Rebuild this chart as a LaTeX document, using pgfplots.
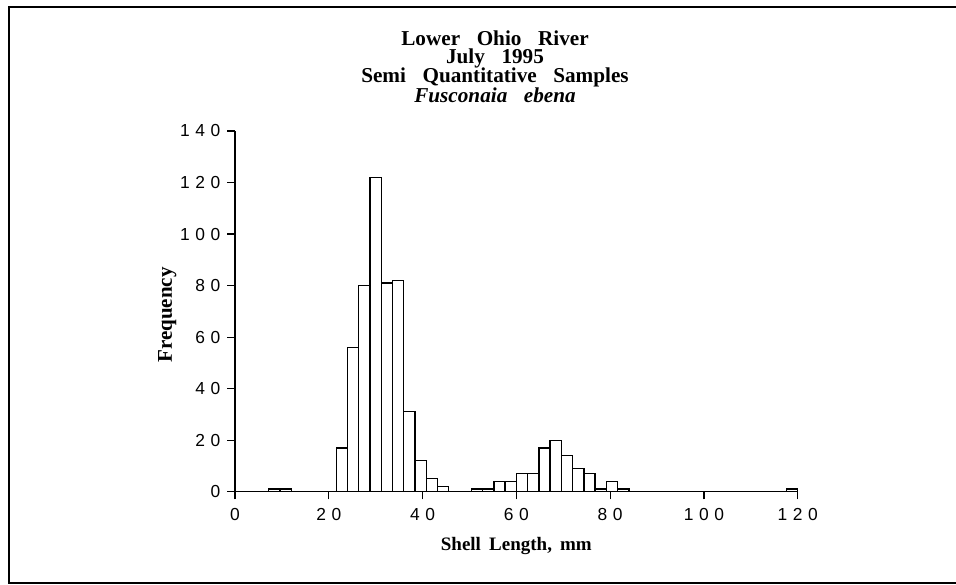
\documentclass[border=0pt]{standalone}
\usepackage{fontspec}
\setmainfont{Liberation Serif}
\newfontfamily\tickfont[LetterSpace=32]{Liberation Sans}
\usepackage{pgfplots}
\pgfplotsset{compat=1.18}
\begin{document}
\begin{tikzpicture}
\useasboundingbox (0,0) rectangle (478pt,292pt);
\draw[line width=1pt] (4.5pt,0.5pt) rectangle (490pt,288.5pt);
\begin{axis}[
  at={(117.5pt,46.15pt)}, anchor=south west,
  scale only axis, width=281.35pt, height=180.35pt,
  xmin=0, xmax=120, ymin=0, ymax=140,
  axis lines*=left,
  axis line style={line width=0.6pt, black},
  xtick={0,20,...,120}, ytick={0,20,...,140},
  tick align=outside, major tick length=3.8pt,
  tick style={line width=0.6pt, black},
  tick label style={font=\tickfont\fontsize{8.7}{10}\selectfont},
  xticklabel style={yshift=-1pt},
  /pgf/number format/assume math mode=true,
  xlabel={\bfseries\fontsize{9.5}{11}\selectfont Shell\hspace{0.43em}Length,\hspace{0.43em}mm},
  xlabel style={at={(axis description cs:0.5,-0.1636)}, anchor=base},
  ylabel={\bfseries\fontsize{10.5}{12}\selectfont Frequency},
  ylabel style={at={(axis description cs:-0.112,0.49)}, anchor=base, rotate=0},
  clip=false,
]
\addplot[ybar interval, fill=white, draw=black, line width=0.65pt] coordinates {
(0,0) (2.4,0) (4.8,0) (7.2,1) (9.6,1) (12,0) (14.4,0) (16.8,0) (19.2,0)
(21.6,17) (24,56) (26.4,80) (28.8,122) (31.2,81) (33.6,82) (36,31) (38.4,12)
(40.8,5) (43.2,2) (45.6,0) (48,0) (50.4,1) (52.8,1) (55.2,4) (57.6,4)
(60,7) (62.4,7) (64.8,17) (67.2,20) (69.6,14) (72,9) (74.4,7) (76.8,1)
(79.2,4) (81.6,1) (84,0) (86.4,0) (88.8,0) (91.2,0) (93.6,0) (96,0)
(98.4,0) (100.8,0) (103.2,0) (105.6,0) (108,0) (110.4,0) (112.8,0)
(115.2,0) (117.6,1) (120,0)
};
\end{axis}
\begin{scope}[every node/.style={inner sep=0pt, anchor=base}, font=\bfseries\fontsize{10.6}{12}\selectfont]
\node[text depth=0pt] at (247.5pt,269.1pt) {Lower\hspace{0.78em}Ohio\hspace{0.78em}River};
\node[text height=6.8pt, text depth=0pt] at (247.5pt,260pt) {July\hspace{0.78em}1995};
\node[text height=7pt, text depth=0pt] at (247.5pt,250.6pt) {Semi\hspace{0.78em}Quantitative\hspace{0.78em}Samples};
\node[text height=7pt] at (247.5pt,240.8pt) {\itshape Fusconaia\hspace{0.78em}ebena};
\end{scope}
\end{tikzpicture}
\end{document}
